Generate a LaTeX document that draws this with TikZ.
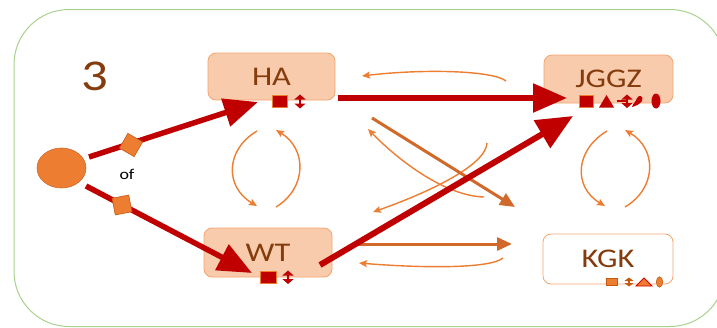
\documentclass[tikz,border=0pt]{standalone}
\usepackage{fontspec}
\setmainfont{Carlito}
\newfontfamily\wfont[FakeStretch=1.2]{Carlito}
\usetikzlibrary{arrows.meta,shapes.geometric}
\definecolor{dred}{HTML}{C00000}
\definecolor{orng}{HTML}{ED7D31}
\definecolor{peach}{HTML}{F8CBAD}
\definecolor{pborder}{HTML}{F4A46E}
\definecolor{brn}{HTML}{843C0C}
\definecolor{frm}{HTML}{A9D18E}
\definecolor{borng}{HTML}{D0692A}
\definecolor{dorng}{HTML}{C55A11}
\tikzset{
  box/.style={draw=pborder, line width=0.8pt, rounded corners=8pt, minimum width=127pt, minimum height=47pt, inner sep=0pt, text=brn, font=\wfont\fontsize{27}{30}\selectfont},
  filledbox/.style={box, fill=peach},
  redarr/.style={draw=dred, line width=5.5pt, -{Triangle[length=34pt,width=28pt]}},
  thinarr/.style={draw=orng, line width=1.4pt, -{Stealth[length=8pt,width=7pt,inset=1.5pt]}},
  brnarr/.style={draw=borng, line width=3pt, -{Triangle[length=15pt,width=13pt]}},
  diam/.style={draw=dorng, fill=orng, line width=0.6pt, minimum size=17pt, inner sep=0pt},
  markbox/.style={fill=dred, draw=orng, line width=0.8pt},
  dbl/.style={line width=2.6pt, {Triangle[length=5pt,width=11pt]}-{Triangle[length=5pt,width=11pt]}}
}
\begin{document}
\begin{tikzpicture}[x=1pt,y=-1pt]
\useasboundingbox (0,0) rectangle (717,327);
\begin{scope}
\clip (0,0) rectangle (717,327);
\draw[frm, line width=1pt, rounded corners=55pt] (14,9.5) rectangle (725,326.5);
\end{scope}

% title number
\node[text=brn, font=\wfont\fontsize{44}{48}\selectfont, inner sep=0pt] (num) at (95,76) {3};

% nodes
\node[filledbox] (HA) at (271.5,76.5) {HA};
\node[filledbox, minimum width=129pt, minimum height=48pt] (JGGZ) at (608.5,79) {JGGZ};
\node[filledbox, minimum width=128pt, minimum height=49pt] (WT) at (268,252.5) {WT};
\node[box, fill=white, minimum width=130pt, minimum height=50pt] (KGK) at (608,259) {KGK};
\node[ellipse, fill=orng, draw=borng, line width=0.6pt, minimum width=49pt, minimum height=40pt, inner sep=0pt] (src) at (61.5,168) {};
\node[font=\wfont\fontsize{15}{17}\selectfont, inner sep=0pt] (oflbl) at (127,174) {of};

% connector end points
\coordinate (s1) at (89,157);   \coordinate (t1) at (258,102);
\coordinate (s2) at (86,186);   \coordinate (t2) at (252,273);
\coordinate (s3) at (338,98);   \coordinate (t3) at (567,98);
\coordinate (s4) at (320,265);  \coordinate (t4) at (573,116);
\coordinate (haL) at (257,131); \coordinate (wtL) at (257,206);
\coordinate (wtR) at (276,207); \coordinate (haR) at (276,130);
\coordinate (jgL) at (607,131); \coordinate (kgL) at (605,206);
\coordinate (kgR) at (625,207); \coordinate (jgR) at (625,130);
\coordinate (jgT) at (506,81);  \coordinate (haT) at (362,76);
\coordinate (kgB) at (503,258); \coordinate (wtB) at (359,263);
\coordinate (haD) at (372,118); \coordinate (kgD) at (515,207);
\coordinate (wtH) at (358,244); \coordinate (kgH) at (512,244);
\coordinate (jgA) at (487,143); \coordinate (wtA) at (373,212);
\coordinate (wtC) at (484,197); \coordinate (haC) at (368,129);

% thin orange arrows
\draw[thinarr] (haL) .. controls (225,150) and (225,187) .. (wtL);
\draw[thinarr] (wtR) .. controls (307,188) and (307,149) .. (haR);
\draw[thinarr] (jgL) .. controls (575,150) and (573,187) .. (kgL);
\draw[thinarr] (kgR) .. controls (657,188) and (657,149) .. (jgR);
\draw[thinarr] (jgT) .. controls (492,70) and (420,69) .. (haT);
\draw[thinarr] (kgB) .. controls (490,269) and (420,268) .. (wtB);
\draw[thinarr] (jgA) .. controls (486,165) and (430,192) .. (wtA);
\draw[thinarr] (wtC) .. controls (445,196) and (398,160) .. (haC);

% brownish arrows
\draw[brnarr] (haD) -- (kgD);
\draw[brnarr] (wtH) -- (kgH);

% thick red arrows
\draw[redarr] (s1) -- (t1);
\draw[redarr] (s2) -- (t2);
\draw[redarr] (s3) -- (t3);
\draw[redarr, line width=6pt, -{Triangle[length=36pt,width=31pt]}] (s4) -- (t4);

% diamonds on the source arrows
\node[diam, rotate=60] (d1) at (131,145) {};
\node[diam, rotate=11] (d2) at (122,205) {};

% markers HA
\draw[markbox] (272,95) rectangle (287,107);
\draw[dbl, dred] (300,94.5) -- (300,108.5);
% markers WT
\draw[markbox] (260,271) rectangle (276,283);
\draw[dbl, dred] (288,270.5) -- (288,284);
% markers JGGZ
\draw[markbox] (579,95) rectangle (593,107);
\fill[dred] (599,107.5) -- (606.5,95) -- (614,107.5) -- cycle;
\draw[dred, line width=2.8pt] (617,101) -- (628,101);
\draw[dbl, dred] (627,94.5) -- (627,108);
\fill[dred] (632,107) .. controls (633,103) and (636,102) .. (637,98)
  .. controls (639,94) and (644,96) .. (642,101) .. controls (640,104) and (636,106) .. (632,107) -- cycle;
\fill[dred] (656,101) ellipse [x radius=4.5pt, y radius=7.5pt];
% markers KGK
\draw[fill=orng, draw=dorng, line width=0.6pt] (606,278) rectangle (617,285.5);
\draw[dorng, line width=2.2pt, {Triangle[length=3.5pt,width=9pt]}-{Triangle[length=3.5pt,width=9pt]}] (629,277.5) -- (629,286.5);
\draw[fill=orng, draw=red!85!black, line width=0.8pt] (636,286) -- (644,278) -- (652,286) -- cycle;
\draw[fill=orng, draw=dorng, line width=0.6pt] (659.5,282) ellipse [x radius=3.2pt, y radius=5.2pt];
\end{tikzpicture}
\end{document}
